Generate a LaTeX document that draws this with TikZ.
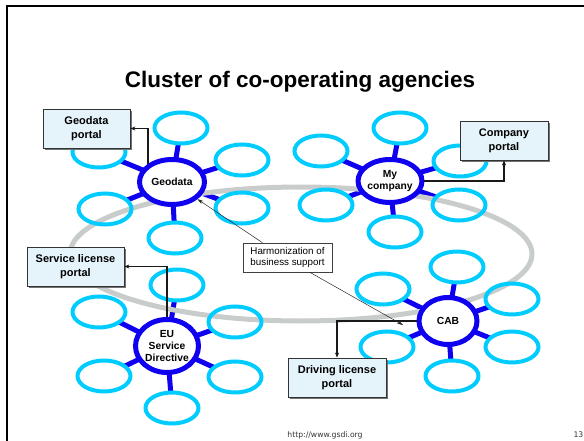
\documentclass[tikz,border=0pt]{standalone}
\usepackage{fontspec}
\setmainfont{Liberation Sans}
\newfontfamily\dejavu{DejaVu Sans}
\usetikzlibrary{shapes.geometric,arrows.meta,shadows,calc,backgrounds}
\definecolor{satc}{RGB}{0,204,255}
\definecolor{hubc}{RGB}{16,0,240}
\definecolor{boxc}{RGB}{229,243,250}
\definecolor{ringc}{RGB}{200,204,202}
\tikzset{
  sat/.style={ellipse, draw=satc, line width=4pt, minimum width=53pt, minimum height=31pt, inner sep=0pt},
  hub/.style={ellipse, draw=hubc, fill=white, line width=5pt, inner sep=0pt, align=center,
              font=\bfseries\fontsize{10.3}{12}\selectfont},
  spoke/.style={draw=hubc, line width=5pt, shorten <=-2.5pt, shorten >=-2pt},
  portal/.style={draw=black!80, fill=boxc, line width=0.8pt, align=center,
              font=\bfseries\fontsize{11}{14}\selectfont, inner sep=0pt,
              drop shadow={shadow xshift=2pt, shadow yshift=-2pt, fill=black!55, opacity=1}},
  conn/.style={draw=black!90, line width=1.3pt, -{Stealth[length=5pt,width=4pt]}},
  thinarrow/.style={draw=black!85, line width=0.5pt, -{Stealth[length=6pt,width=3.5pt]}},
  harmbox/.style={draw=black!75, fill=white, line width=0.7pt, align=left, inner sep=0pt,
              minimum width=89pt, minimum height=29pt, font=\fontsize{9.8}{11}\selectfont},
  footer/.style={font=\dejavu\fontsize{7.7}{9}\selectfont, text=black!80},
}
\begin{document}
\begin{tikzpicture}[x=1pt,y=-1pt]
\useasboundingbox (0,0) rectangle (584,441);
% slide frame
\draw[line width=2pt, black] (6.5,441) -- (6.5,6.5) -- (584,6.5);
% title
\node[anchor=base, font=\bfseries\fontsize{22.5}{26}\selectfont] (title) at (300,88) {Cluster of co-operating agencies};
% big gray ring
\node[ellipse, draw=ringc, line width=5pt, minimum width=462pt, minimum height=134pt, inner sep=0pt] (ring) at (301,254) {};

% Geodata cluster
\node[hub, minimum width=65pt, minimum height=45pt] (geohub) at (172,182) {Geodata};
\node[sat] (g1) at (181,128) {};
\node[sat] (g2) at (99,152) {};
\node[sat] (g3) at (242,160) {};
\node[sat] (g4) at (105,209) {};
\node[sat] (g5) at (242,208) {};
\node[sat] (g6) at (175,238) {};

% My company cluster
\node[hub, minimum width=63pt, minimum height=43pt] (myhub) at (390,181) {My\\company};
\node[sat] (m1) at (400,128) {};
\node[sat] (m2) at (321,151) {};
\node[sat] (m3) at (460,161) {};
\node[sat] (m4) at (326,205) {};
\node[sat] (m5) at (459,205) {};
\node[sat] (m6) at (395,232) {};

% EU cluster
\node[hub, minimum width=63pt, minimum height=53pt] (euhub) at (167,346) {EU\\Service\\Directive};
\node[sat] (e1) at (177,285) {};
\node[sat] (e2) at (99,312) {};
\node[sat] (e3) at (235,322) {};
\node[sat] (e4) at (104,376) {};
\node[sat] (e5) at (235,377) {};
\node[sat] (e6) at (172,408) {};

% CAB cluster
\node[hub, minimum width=58pt, minimum height=47pt] (cabhub) at (448,321) {CAB};
\node[sat] (c1) at (457,267) {};
\node[sat] (c2) at (383,289) {};
\node[sat] (c3) at (512,299) {};
\node[sat] (c4) at (387,347) {};
\node[sat] (c5) at (512,347) {};
\node[sat] (c6) at (452,376) {};

\begin{scope}[on background layer]
  \foreach \h/\p in {geohub/g, myhub/m, euhub/e, cabhub/c}{
    \foreach \i in {1,...,6}{
      \draw[spoke] (\h) -- (\p\i);
    }
  }
\end{scope}

% portals
\node[portal, minimum width=87pt, minimum height=39pt] (geoportal) at (86.5,128.5) {Geodata\\portal};
\node[portal, minimum width=88pt, minimum height=39pt] (coportal) at (504,140.5) {Company\\portal};
\node[portal, minimum width=97pt, minimum height=39pt] (slportal) at (75.5,266.5) {Service license\\portal};
\node[portal, minimum width=98pt, minimum height=39pt] (dlportal) at (337,377.5) {Driving license\\portal};

\draw[conn] (geohub.143) |- (geoportal.east);
\draw[conn] (myhub.east) -| (coportal.south);
\draw[conn] (euhub.north) |- (slportal.east);
\draw[conn] (cabhub.west) -| (dlportal.north);

% harmonization
\node[harmbox] (harm) at (287.5,257.5) {Harmonization of\\business support};
\coordinate (harmend) at (403,325);
\draw[thinarrow] ($(harm.north west)!0.22!(harm.north east)$) -- (geohub.-34);
\draw[thinarrow] ($(harm.south west)!0.75!(harm.south east)$) -- (harmend);

% footer
\node[anchor=base, footer] (url) at (325,437) {http://www.gsdi.org};
\node[anchor=base east, footer, inner sep=0.5pt] (pnum) at (584,437) {13};
\end{tikzpicture}
\end{document}
